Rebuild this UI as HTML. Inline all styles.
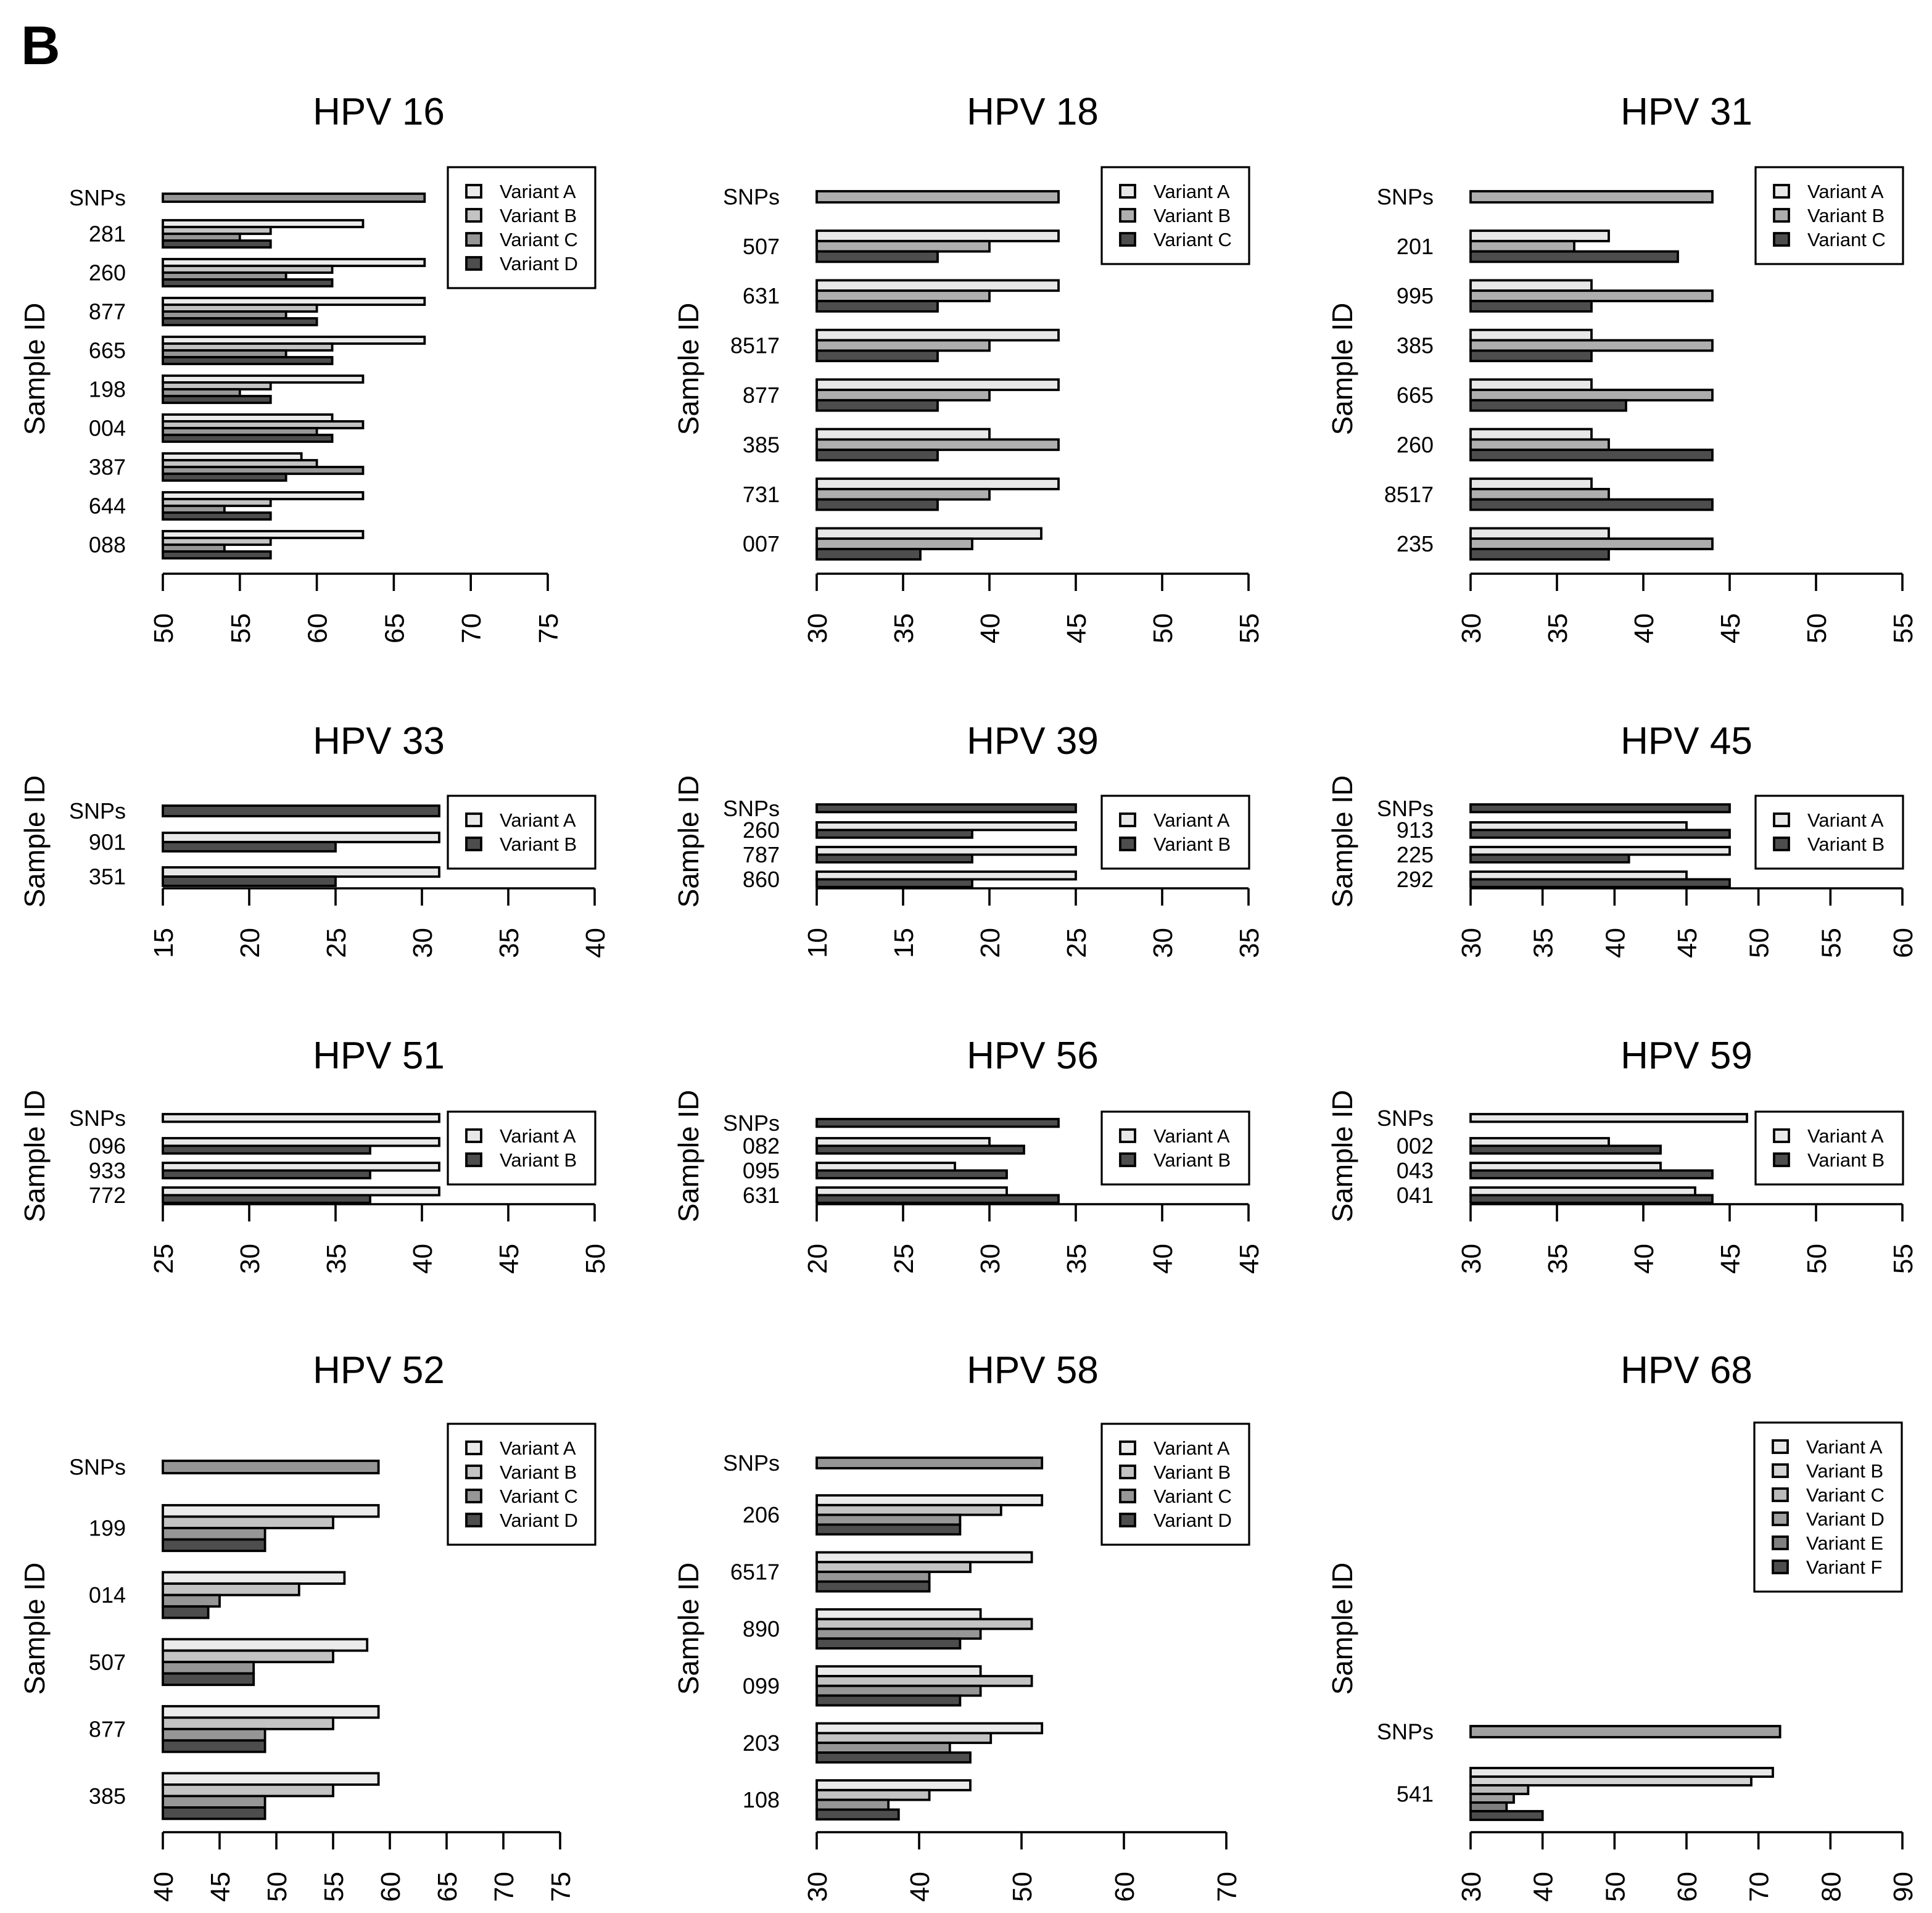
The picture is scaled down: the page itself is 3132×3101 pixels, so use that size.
<!DOCTYPE html>
<html><head><meta charset="utf-8"><style>
html,body{margin:0;padding:0;background:#fff}
svg{display:block}
text{font-family:"Liberation Sans",Arial,sans-serif;fill:#000}
</style></head><body>
<svg id="fig" xmlns="http://www.w3.org/2000/svg" width="3132" height="3101" viewBox="0 0 1566 1550.5">
<rect x="0" y="0" width="1566" height="1550.5" fill="#fff"/>
<text x="17" y="52" font-size="44" font-weight="bold">B</text>
</svg>
<script>
const hpv16Categories = ["281","260","877","665","198","004","387","644","088"];
const hpv16Values = [[63,57,55,57],[67,61,58,61],[67,60,58,60],[67,61,58,61],[63,57,55,57],[61,63,60,61],[59,60,63,58],[63,57,54,57],[63,57,54,57]];
const hpv16Snps = 67;
const hpv16Ticks = [50,55,60,65,70,75];

const hpv18Categories = ["507","631","8517","877","385","731","007"];
const hpv18Values = [[44,40,37],[44,40,37],[44,40,37],[44,40,37],[40,44,37],[44,40,37],[43,39,36]];
const hpv18Snps = 44;
const hpv18Ticks = [30,35,40,45,50,55];

const hpv31Categories = ["201","995","385","665","260","8517","235"];
const hpv31Values = [[38,36,42],[37,44,37],[37,44,37],[37,44,39],[37,38,44],[37,38,44],[38,44,38]];
const hpv31Snps = 44;
const hpv31Ticks = [30,35,40,45,50,55];

const hpv33Categories = ["901","351"];
const hpv33Values = [[31,25],[31,25]];
const hpv33Snps = 31;
const hpv33Ticks = [15,20,25,30,35,40];

const hpv39Categories = ["260","787","860"];
const hpv39Values = [[25,19],[25,19],[25,19]];
const hpv39Snps = 25;
const hpv39Ticks = [10,15,20,25,30,35];

const hpv45Categories = ["913","225","292"];
const hpv45Values = [[45,48],[48,41],[45,48]];
const hpv45Snps = 48;
const hpv45Ticks = [30,35,40,45,50,55,60];

const hpv51Categories = ["096","933","772"];
const hpv51Values = [[41,37],[41,37],[41,37]];
const hpv51Snps = 41;
const hpv51Ticks = [25,30,35,40,45,50];

const hpv56Categories = ["082","095","631"];
const hpv56Values = [[30,32],[28,31],[31,34]];
const hpv56Snps = 34;
const hpv56Ticks = [20,25,30,35,40,45];

const hpv59Categories = ["002","043","041"];
const hpv59Values = [[38,41],[41,44],[43,44]];
const hpv59Snps = 46;
const hpv59Ticks = [30,35,40,45,50,55];

const hpv52Categories = ["199","014","507","877","385"];
const hpv52Values = [[59,55,49,49],[56,52,45,44],[58,55,48,48],[59,55,49,49],[59,55,49,49]];
const hpv52Snps = 59;
const hpv52Ticks = [40,45,50,55,60,65,70,75];

const hpv58Categories = ["206","6517","890","099","203","108"];
const hpv58Values = [[52,48,44,44],[51,45,41,41],[46,51,46,44],[46,51,46,44],[52,47,43,45],[45,41,37,38]];
const hpv58Snps = 52;
const hpv58Ticks = [30,40,50,60,70];

const hpv68Categories = ["541"];
const hpv68Values = [[72,69,38,36,35,40]];
const hpv68Snps = 73;
const hpv68Ticks = [30,40,50,60,70,80,90];

const v2 = ["Variant A","Variant B"];
const v3 = ["Variant A","Variant B","Variant C"];
const v4 = ["Variant A","Variant B","Variant C","Variant D"];
const v6 = ["Variant A","Variant B","Variant C","Variant D","Variant E","Variant F"];

const c2 = ['#E8E8E8','#4D4D4D'];
const c3 = ['#E8E8E8','#AEAEAE','#4D4D4D'];
const c4 = ['#EBEBEB','#C3C3C3','#969696','#4D4D4D'];
const c6 = ['#E8E8E8','#D3D3D3','#BBBBBB','#A0A0A0','#7F7F7F','#4D4D4D'];

const panels = [
 {title:"HPV 16",cats:hpv16Categories,vals:hpv16Values,snp:hpv16Snps,ticks:hpv16Ticks,vn:v4,cols:c4,snpCol:c4[2],x0:132,x1:444,axisY:465,snpTop:157,snpH:6.5,gTop:178.5,period:31.5,barH:5.5,lx:363,ly:135.5,ty:101,sy:299},
 {title:"HPV 18",cats:hpv18Categories,vals:hpv18Values,snp:hpv18Snps,ticks:hpv18Ticks,vn:v3,cols:c3,snpCol:c3[1],x0:662,x1:1012,axisY:465,snpTop:155,snpH:9,gTop:187,period:40.2,barH:8.4,lx:893,ly:135.5,ty:101,sy:299},
 {title:"HPV 31",cats:hpv31Categories,vals:hpv31Values,snp:hpv31Snps,ticks:hpv31Ticks,vn:v3,cols:c3,snpCol:c3[1],x0:1192,x1:1542,axisY:465,snpTop:155,snpH:9,gTop:187,period:40.2,barH:8.4,lx:1423,ly:135.5,ty:101,sy:299},
 {title:"HPV 33",cats:hpv33Categories,vals:hpv33Values,snp:hpv33Snps,ticks:hpv33Ticks,vn:v2,cols:c2,snpCol:c2[1],x0:132,x1:482,axisY:720,snpTop:653,snpH:8.5,gTop:675,period:28,barH:7.5,lx:363,ly:645,ty:611,sy:682},
 {title:"HPV 39",cats:hpv39Categories,vals:hpv39Values,snp:hpv39Snps,ticks:hpv39Ticks,vn:v2,cols:c2,snpCol:c2[1],x0:662,x1:1012,axisY:720,snpTop:652,snpH:6.2,gTop:666.5,period:20,barH:6.2,lx:893,ly:645,ty:611,sy:682},
 {title:"HPV 45",cats:hpv45Categories,vals:hpv45Values,snp:hpv45Snps,ticks:hpv45Ticks,vn:v2,cols:c2,snpCol:c2[1],x0:1192,x1:1542,axisY:720,snpTop:652,snpH:6.2,gTop:666.5,period:20,barH:6.2,lx:1423,ly:645,ty:611,sy:682},
 {title:"HPV 51",cats:hpv51Categories,vals:hpv51Values,snp:hpv51Snps,ticks:hpv51Ticks,vn:v2,cols:c2,snpCol:c2[0],x0:132,x1:482,axisY:976,snpTop:903,snpH:6.2,gTop:922.5,period:20,barH:6.2,lx:363,ly:901,ty:866,sy:937},
 {title:"HPV 56",cats:hpv56Categories,vals:hpv56Values,snp:hpv56Snps,ticks:hpv56Ticks,vn:v2,cols:c2,snpCol:c2[1],x0:662,x1:1012,axisY:976,snpTop:907,snpH:6.2,gTop:922.5,period:20,barH:6.2,lx:893,ly:901,ty:866,sy:937},
 {title:"HPV 59",cats:hpv59Categories,vals:hpv59Values,snp:hpv59Snps,ticks:hpv59Ticks,vn:v2,cols:c2,snpCol:c2[0],x0:1192,x1:1542,axisY:976,snpTop:903,snpH:6.2,gTop:922.5,period:20,barH:6.2,lx:1423,ly:901,ty:866,sy:937},
 {title:"HPV 52",cats:hpv52Categories,vals:hpv52Values,snp:hpv52Snps,ticks:hpv52Ticks,vn:v4,cols:c4,snpCol:c4[2],x0:132,x1:454,axisY:1485,snpTop:1184,snpH:10,gTop:1220,period:54.3,barH:9.25,lx:363,ly:1154,ty:1121,sy:1320},
 {title:"HPV 58",cats:hpv58Categories,vals:hpv58Values,snp:hpv58Snps,ticks:hpv58Ticks,vn:v4,cols:c4,snpCol:c4[2],x0:662,x1:994,axisY:1485,snpTop:1181.5,snpH:8.5,gTop:1212,period:46.2,barH:7.9,lx:893,ly:1154,ty:1121,sy:1320},
 {title:"HPV 68",cats:hpv68Categories,vals:hpv68Values,snp:hpv68Snps,ticks:hpv68Ticks,vn:v6,cols:c6,snpCol:c6[3],x0:1192,x1:1542,axisY:1485,snpTop:1399,snpH:9,gTop:1433,period:0,barH:7,lx:1422,ly:1153,ty:1121,sy:1320}
];

const NS = "http://www.w3.org/2000/svg";
const svg = document.getElementById('fig');
function mk(tag, attrs, parent){
  const e = document.createElementNS(NS, tag);
  for (const k in attrs) e.setAttribute(k, attrs[k]);
  (parent||svg).appendChild(e);
  return e;
}

panels.forEach(p => {
  const slug = p.title.replace(' ','').toLowerCase();
  const g = mk('g', {});
  
  
  const lo = p.ticks[0], hi = p.ticks[p.ticks.length-1];
  const xs = v => p.x0 + (v - lo) / (hi - lo) * (p.x1 - p.x0);
  const t = mk('text', {x: p.x0 + 175, y: p.ty, 'font-size': 31, 'text-anchor': 'middle'}, g);
  t.textContent = p.title;
  
  
  const yt = mk('text', {x: 0, y: 0, 'font-size': 23, 'text-anchor': 'middle', transform: `translate(${p.x0-96},${p.sy}) rotate(-90)`}, g);
  yt.textContent = 'Sample ID';
  
  
  const sb = mk('rect', {x: xs(lo), y: p.snpTop, width: xs(p.snp) - xs(lo), height: p.snpH, fill: p.snpCol, stroke: '#000', 'stroke-width': 1.9}, g);
  
  
  const sl = mk('text', {x: p.x0 - 30, y: p.snpTop + p.snpH/2, dy: '0.35em', 'font-size': 18, 'text-anchor': 'end'}, g);
  sl.textContent = 'SNPs';
  
  
  p.cats.forEach((c, i) => {
    const top = p.gTop + i * p.period;
    p.vals[i].forEach((v, j) => {
      const r = mk('rect', {x: xs(lo), y: top + j * p.barH, width: xs(v) - xs(lo), height: p.barH, fill: p.cols[j], stroke: '#000', 'stroke-width': 1.9}, g);
      
      
    });
    const lab = mk('text', {x: p.x0 - 30, y: top + p.vals[i].length * p.barH / 2, dy: '0.35em', 'font-size': 18, 'text-anchor': 'end'}, g);
    lab.textContent = c;
    
    
  });
  const ax = mk('line', {x1: xs(lo), x2: xs(hi), y1: p.axisY, y2: p.axisY, stroke: '#000', 'stroke-width': 1.8}, g);
  
  
  p.ticks.forEach(tv => {
    const tk = mk('line', {x1: xs(tv), x2: xs(tv), y1: p.axisY, y2: p.axisY + 14, stroke: '#000', 'stroke-width': 1.8}, g);
    
    
    const tl = mk('text', {x: 0, y: 0, 'font-size': 22, 'text-anchor': 'end', transform: `translate(${xs(tv)+8},${p.axisY+32}) rotate(-90)`}, g);
    tl.textContent = String(tv);
    
    
  });
  const n = p.vn.length;
  const lg = mk('g', {}, g);
  
  
  mk('rect', {x: p.lx, y: p.ly, width: 119.5, height: 19.5 * n + 20, fill: '#fff', stroke: '#000', 'stroke-width': 1.6}, lg);
  p.vn.forEach((name, j) => {
    const cy = p.ly + 19.5 + j * 19.5;
    const sw = mk('rect', {x: p.lx + 15, y: cy - 5, width: 12, height: 10, fill: p.cols[j], stroke: '#000', 'stroke-width': 1.9}, lg);
    
    
    const lt = mk('text', {x: p.lx + 42, y: cy, dy: '0.36em', 'font-size': 15.5}, lg);
    lt.textContent = name;
    
    
  });
});
</script>
</body></html>
